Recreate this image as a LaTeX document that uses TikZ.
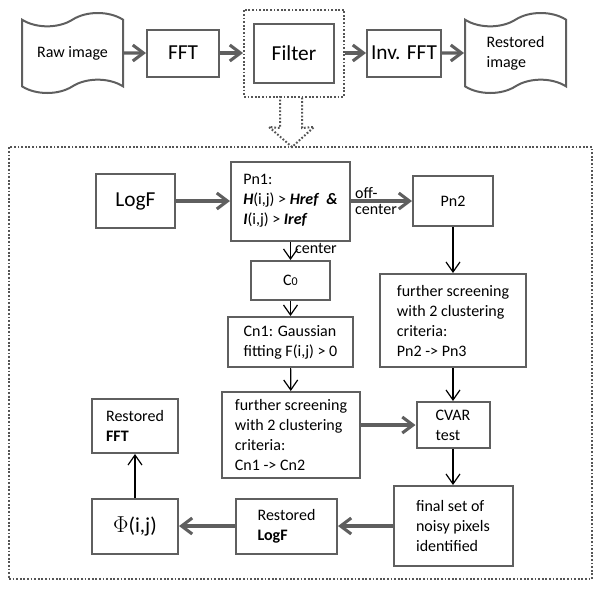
\documentclass[tikz,border=0pt]{standalone}
\usepackage{fontspec}
\setmainfont{Carlito}
\usepackage{tikz}
\usetikzlibrary{arrows.meta,shapes.symbols}
\definecolor{boxgray}{RGB}{95,95,95}
\definecolor{dotgray}{RGB}{85,85,85}
\tikzset{
  box/.style={draw=boxgray, line width=1.5pt, inner sep=2pt, align=left,
    font=\fontsize{12}{15}\selectfont},
  bigtxt/.style={font=\fontsize{16}{19}\selectfont},
  tapebox/.style={tape, draw=boxgray, line width=1.5pt, align=left,
    tape bend height=10pt, minimum width=75.75pt, minimum height=60pt,
    font=\fontsize{12}{15}\selectfont},
  dotbox/.style={draw=dotgray, line width=1.5pt, dash pattern=on 1.3pt off 1.4pt},
  fatarrow/.style={draw=boxgray, line width=2.3pt, -{Straight Barb[length=8pt,width=12pt]}},
  thinarrow/.style={draw=black, line width=0.9pt, -{Straight Barb[length=7.5pt,width=10.5pt]}},
  lbl/.style={font=\fontsize{12}{12.5}\selectfont, inner sep=2pt, align=left}
}
\begin{document}
\begin{tikzpicture}[x=0.75pt, y=-0.75pt]
  \useasboundingbox (0,0) rectangle (600,600);

  \node[tapebox] (raw) at (72.5,53) {Raw image};
  \node[box, bigtxt, minimum width=54pt, minimum height=35.25pt] (fft) at (183,53) {FFT};
  \node[box, bigtxt, minimum width=60pt, minimum height=44.25pt] (filter) at (294,53) {Filter};
  \node[dotbox, minimum width=75pt, minimum height=65.25pt] (filterframe) at (294,53) {};
  \node[box, bigtxt, minimum width=55.5pt, minimum height=35.25pt] (inv) at (404,53) {Inv. FFT};
  \node[tapebox] (restored) at (515.5,53) {Restored\\image};

  \draw[fatarrow] (raw) -- (fft);
  \draw[fatarrow] (fft) -- (filterframe);
  \draw[fatarrow] (filterframe) -- (inv);
  \draw[fatarrow] (inv) -- (restored);

  \draw[dotbox] (280,96) -- (280,128) -- (269,127) -- (292,147) -- (314,127) -- (302,128) -- (302,96);
  \node[dotbox, minimum width=437.25pt, minimum height=324pt] (bigframe) at (300.5,363) {};

  \node[box, bigtxt, minimum width=59.25pt, minimum height=40.5pt] (logf) at (135.5,201) {LogF};
  \node[box, minimum width=89.25pt, minimum height=59.25pt] (pn1) at (290.5,201) {Pn1:\\\textbf{\textit{H}}(i,j) > \textbf{\textit{Href}}\ \ \textbf{\textit{\&}}\\\textbf{\textit{I}}(i,j) > \textbf{\textit{Iref}}};
  \node[box, minimum width=60pt, minimum height=37.5pt] (pn2) at (453,201) {Pn2};
  \node[box, minimum width=59.25pt, minimum height=29.25pt] (c0) at (290.5,280.5) {C{\fontsize{9}{10}\selectfont 0}};
  \node[box, minimum width=93.75pt, minimum height=37.5pt] (cn1) at (290.5,342) {Cn1: Gaussian\\fitting F(i,j) > 0};
  \node[box, minimum width=109.5pt, minimum height=69.75pt] (scrp) at (453,320.5) {further screening\\with 2 clustering\\criteria:\\Pn2 -> Pn3};
  \node[box, minimum width=103.5pt, minimum height=64.5pt] (scrc) at (291,435) {further screening\\with 2 clustering\\criteria:\\Cn1 -> Cn2};
  \node[box, minimum width=54.75pt, minimum height=34.5pt] (cvar) at (453,425) {CVAR\\test};
  \node[box, minimum width=89.25pt, minimum height=60pt] (final) at (453,526) {final set of\\noisy pixels\\identified};
  \node[box, minimum width=75.75pt, minimum height=41.25pt] (rlogf) at (286.5,526) {Restored\\\textbf{LogF}};
  \node[box, bigtxt, minimum width=64.5pt, minimum height=41.25pt] (phi) at (135,526) {$\Phi$(i,j)};
  \node[box, minimum width=64.5pt, minimum height=40.5pt] (rfft) at (135,426) {Restored\\\textbf{FFT}};

  \draw[fatarrow] (logf) -- (pn1);
  \draw[fatarrow] (pn1) -- node[lbl, pos=0, anchor=west] {off-\\center} (pn2);
  \draw[thinarrow] (pn1) -- node[lbl, pos=0.4, right, xshift=1pt] {center} (c0);
  \draw[thinarrow] (c0) -- (cn1);
  \draw[thinarrow] (cn1) -- (scrc);
  \draw[thinarrow] (pn2) -- (scrp);
  \draw[thinarrow] (scrp) -- (cvar);
  \draw[fatarrow] (scrc.east |- cvar.west) -- (cvar.west);
  \draw[thinarrow] (cvar) -- (final);
  \draw[fatarrow] (final) -- (rlogf);
  \draw[fatarrow] (rlogf) -- (phi);
  \draw[thinarrow] (phi) -- (rfft);
\end{tikzpicture}
\end{document}
